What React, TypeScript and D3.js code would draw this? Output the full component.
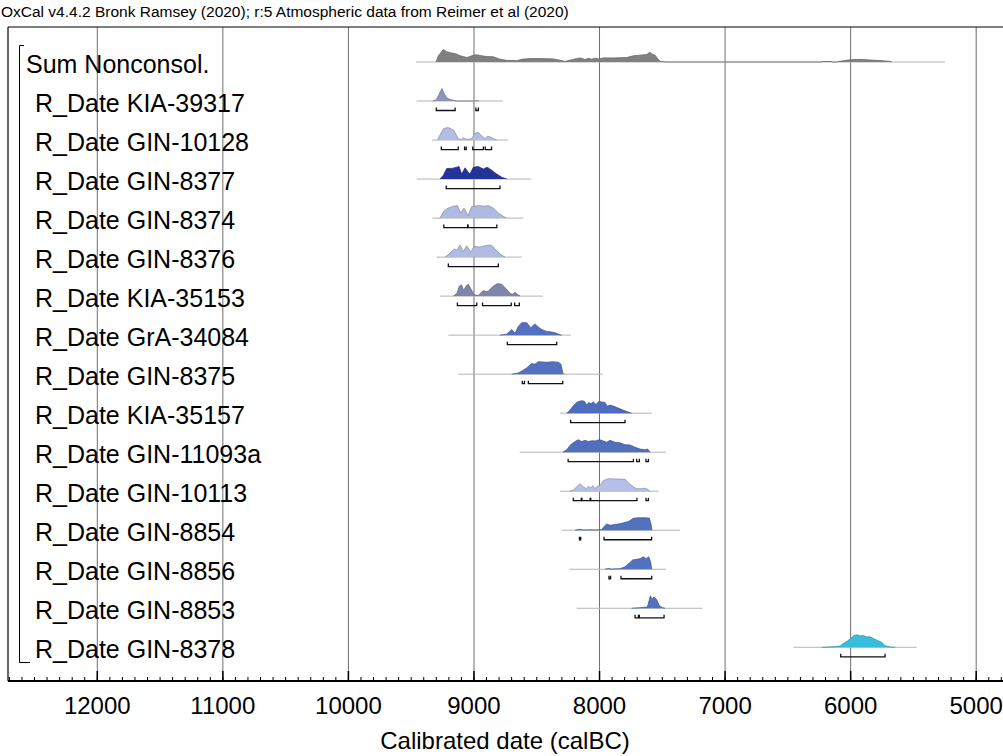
import React from "react";
import * as d3 from "d3";

// ---- data ----
const titleText = "OxCal v4.4.2 Bronk Ramsey (2020); r:5 Atmospheric data from Reimer et al (2020)";
const axisLabel = "Calibrated date (calBC)";
const majorTicks = [12000, 11000, 10000, 9000, 8000, 7000, 6000, 5000];

const labels = [
  "Sum Nonconsol.", "R_Date KIA-39317", "R_Date GIN-10128", "R_Date GIN-8377",
  "R_Date GIN-8374", "R_Date GIN-8376", "R_Date KIA-35153", "R_Date GrA-34084",
  "R_Date GIN-8375", "R_Date KIA-35157", "R_Date GIN-11093a", "R_Date GIN-10113",
  "R_Date GIN-8854", "R_Date GIN-8856", "R_Date GIN-8853", "R_Date GIN-8378",
];

const fills = [
  "#808080", "#8d95ba", "#b3bde6", "#23339a", "#afbae3", "#b0bbe3", "#7e86ab",
  "#5470c0", "#5470c0", "#4f6bbd", "#5070be", "#b5c0e8", "#5272c0", "#5272c0",
  "#5272c0", "#36bedc",
];

const rangeExtents: [number, number][] = [
  [9462, 5248], [9458, 8771], [9334, 8729], [9456, 8546], [9332, 8607], [9297, 8620],
  [9270, 8453], [9204, 8229], [9125, 7974], [8315, 7584], [8636, 7470], [8315, 7531],
  [8301, 7359], [8240, 7470], [8182, 7178], [6456, 5474],
];

const sumDensity = [
  [9302, 0], [9284, 0.5], [9244, 1.0], [9217, 0.83], [9178, 0.72], [9138, 0.64], [9111, 0.5],
  [9085, 0.44], [9058, 0.36], [9032, 0.44], [9005, 0.55], [8978, 0.58], [8939, 0.5], [8899, 0.44],
  [8846, 0.42], [8793, 0.22], [8740, 0.14], [8660, 0.11], [8620, 0.22], [8554, 0.28], [8474, 0.28],
  [8368, 0.25], [8315, 0.15], [8275, 0.05], [8235, 0.15], [8195, 0.25], [8155, 0.33], [8116, 0.2],
  [8089, 0.3], [8062, 0.22], [8036, 0.3], [8009, 0.25], [7969, 0.33], [7890, 0.33], [7784, 0.36],
  [7730, 0.5], [7677, 0.55], [7624, 0.6], [7598, 0.8], [7585, 0.65], [7558, 0.55], [7539, 0.3],
  [7518, 0.05], [7492, 0.02], [7470, 0], [6235, 0], [6230, 0.04], [6151, 0.04], [6145, 0],
  [6105, 0], [6098, 0.04], [6058, 0.1], [6005, 0.18], [5952, 0.2], [5899, 0.2], [5845, 0.16],
  [5766, 0.12], [5686, 0.05], [5673, 0],
];
const kia39317Density = [
  [9330, 0], [9300, 0.1], [9280, 0.5], [9255, 1.0], [9235, 0.55], [9215, 0.25], [9190, 0.12],
  [9160, 0.05], [9140, 0], [8990, 0], [8975, 0.03], [8960, 0],
];
const gin10128Density = [
  [9290, 0], [9276, 0.3], [9244, 0.9], [9210, 1.0], [9191, 0.95], [9159, 0.75], [9125, 0.1],
  [9100, 0.05], [9085, 0.18], [9058, 0.05], [9020, 0.1], [8992, 0.55], [8965, 0.6], [8938, 0.35],
  [8912, 0.1], [8894, 0.3], [8870, 0.25], [8840, 0.08], [8819, 0],
];
const gin8377Density = [
  [9270, 0], [9244, 0.3], [9217, 0.85], [9177, 0.85], [9137, 0.95], [9119, 1.0], [9098, 0.4],
  [9071, 0.9], [9050, 0.6], [9032, 0.4], [9005, 0.95], [8965, 1.0], [8926, 0.8], [8894, 0.95],
  [8859, 0.7], [8819, 0.4], [8779, 0.15], [8739, 0],
];
const gin8374Density = [
  [9270, 0], [9244, 0.5], [9217, 0.75], [9164, 0.95], [9132, 1.0], [9106, 0.4], [9079, 0.8],
  [9048, 0.2], [9018, 0.9], [8965, 1.0], [8912, 0.95], [8886, 1.0], [8846, 0.8], [8806, 0.4],
  [8753, 0.05], [8740, 0],
];
const gin8376Density = [
  [9231, 0], [9204, 0.2], [9177, 0.45], [9156, 0.65], [9137, 0.55], [9111, 0.95], [9085, 0.45],
  [9058, 0.9], [9026, 0.4], [8999, 0.85], [8952, 0.8], [8894, 0.95], [8859, 0.95], [8819, 0.5],
  [8779, 0.15], [8753, 0],
];
const kia35153Density = [
  [9164, 0], [9137, 0.2], [9116, 0.8], [9100, 0.9], [9082, 0.45], [9063, 0.8], [9045, 0.95],
  [9026, 0.6], [8999, 0.1], [8965, 0.05], [8926, 0.45], [8904, 0.35], [8886, 0.4], [8846, 0.8],
  [8811, 1.0], [8780, 0.95], [8745, 0.6], [8713, 0.2], [8692, 0.15], [8673, 0.3], [8655, 0.15],
  [8633, 0],
];
const gra34084Density = [
  [8793, 0], [8739, 0.08], [8699, 0.45], [8673, 0.15], [8647, 0.7], [8620, 1.0], [8580, 1.0],
  [8548, 0.6], [8514, 0.9], [8487, 0.65], [8460, 0.45], [8421, 0.3], [8381, 0.25], [8354, 0.2],
  [8320, 0.05], [8301, 0],
];
const gin8375Density = [
  [8699, 0], [8647, 0.1], [8612, 0.3], [8580, 0.5], [8541, 0.85], [8514, 0.8], [8487, 1.0],
  [8421, 0.95], [8368, 1.0], [8328, 0.95], [8307, 0.8], [8293, 0.1], [8283, 0],
];
const kia35157Density = [
  [8261, 0], [8235, 0.25], [8208, 0.6], [8177, 0.9], [8142, 1.0], [8121, 0.95], [8102, 0.65],
  [8086, 0.85], [8068, 0.75], [8049, 0.9], [8028, 0.7], [8004, 0.95], [7983, 0.9], [7956, 0.85],
  [7938, 0.55], [7916, 0.65], [7885, 0.55], [7837, 0.35], [7789, 0.15], [7744, 0],
];
const gin11093aDensity = [
  [8293, 0], [8261, 0.2], [8230, 0.6], [8195, 0.85], [8169, 1.0], [8142, 0.85], [8115, 0.95],
  [8089, 0.85], [8062, 0.92], [8036, 0.9], [8001, 1.0], [7969, 0.9], [7943, 0.8], [7916, 0.95],
  [7877, 0.8], [7837, 0.75], [7797, 0.6], [7757, 0.58], [7717, 0.4], [7677, 0.25], [7638, 0.2],
  [7616, 0.25], [7598, 0],
];
const gin10113Density = [
  [8240, 0], [8208, 0.1], [8182, 0.35], [8155, 0.6], [8134, 0.4], [8107, 0.2], [8089, 0.4],
  [8070, 0.25], [8054, 0.45], [8036, 0.2], [8017, 0.4], [7996, 0.45], [7969, 0.85], [7930, 1.0],
  [7863, 0.98], [7797, 0.95], [7762, 0.6], [7731, 0.35], [7704, 0.2], [7664, 0.2], [7638, 0.25],
  [7611, 0.12], [7598, 0],
];
const gin8854Density = [
  [8195, 0], [8161, 0.08], [8129, 0.02], [8076, 0.04], [8036, 0.02], [7983, 0.05], [7964, 0.3],
  [7943, 0.5], [7916, 0.4], [7877, 0.45], [7823, 0.55], [7770, 0.7], [7731, 0.95], [7691, 1.0],
  [7638, 1.0], [7603, 0.97], [7590, 0.5], [7582, 0],
];
const gin8856Density = [
  [7956, 0], [7930, 0.06], [7903, 0.02], [7837, 0.05], [7797, 0.2], [7762, 0.5], [7736, 0.75],
  [7704, 0.8], [7677, 0.85], [7651, 1.0], [7630, 0.85], [7608, 1.0], [7593, 0.6], [7585, 0],
];
const gin8853Density = [
  [7744, 0], [7677, 0.05], [7619, 0.1], [7603, 0.7], [7595, 1.0], [7582, 0.75], [7566, 0.9],
  [7545, 0.7], [7523, 0.2], [7497, 0.05], [7478, 0],
];
const gin8378Density = [
  [6230, 0], [6138, 0.04], [6084, 0.1], [6058, 0.3], [6026, 0.5], [6000, 0.7], [5973, 0.95],
  [5946, 1.0], [5925, 0.9], [5899, 0.95], [5872, 0.82], [5846, 0.85], [5819, 0.7], [5787, 0.55],
  [5753, 0.4], [5726, 0.12], [5686, 0.03], [5646, 0],
];

const densities = [
  sumDensity, kia39317Density, gin10128Density, gin8377Density, gin8374Density, gin8376Density,
  kia35153Density, gra34084Density, gin8375Density, kia35157Density, gin11093aDensity,
  gin10113Density, gin8854Density, gin8856Density, gin8853Density, gin8378Density,
];

const hpdRanges: [number, number][][] = [
  [],
  [[9300, 9150], [8985, 8965]],
  [[9260, 9125], [9075, 9062], [9010, 8925], [8910, 8860]],
  [[9221, 8793]],
  [[9240, 9050], [9048, 8818]],
  [[9204, 8806]],
  [[9132, 8978], [8932, 8703], [8676, 8639]],
  [[8734, 8341]],
  [[8615, 8598], [8567, 8293]],
  [[8230, 7797]],
  [[8250, 7730], [7704, 7683], [7630, 7611]],
  [[8209, 8145], [8140, 8075], [8070, 7702], [7630, 7611]],
  [[8160, 8150], [7964, 7585]],
  [[7925, 7912], [7829, 7584]],
  [[7717, 7690], [7683, 7486]],
  [[6079, 5726]],
];

// ---- layout ----
const W = 1003;
const H = 756;
const frameLeft = 8;
const frameTop = 27;
const axisY = 681;
const row0 = 62;
const rowStep = 39.02;
const peakH = 12.5;
const FONT = "'Liberation Sans', Arial, Helvetica, sans-serif";

export default function App() {
  const x = d3.scaleLinear().domain([12000, 5000]).range([97.3, 976.2]);
  const minorTicks = d3.range(12700, 4700, -100).filter((d) => x(d) > frameLeft + 1 && x(d) < W);

  return (
    <svg width={W} height={H} style={{ position: "absolute", left: 0, top: 0, background: "#fff" }}
      fontFamily={FONT}>
      <text x={1} y={17} fontSize={15.5} fill="#000">{titleText}</text>

      {/* gridlines */}
      {majorTicks.map((t) => (
        <line key={"g" + t} x1={x(t)} x2={x(t)} y1={frameTop} y2={axisY} stroke="#6e6e6e" strokeWidth={1} />
      ))}

      {/* frame */}
      <line x1={frameLeft} x2={W + 10} y1={frameTop} y2={frameTop} stroke="#000" strokeWidth={1} />
      <line x1={frameLeft} x2={frameLeft} y1={frameTop} y2={axisY} stroke="#000" strokeWidth={1.2} />

      {/* distributions */}
      {densities.map((pts, i) => {
        const base = row0 + rowStep * i;
        const area = d3.area<number[]>()
          .x((d) => x(d[0]))
          .y0(base)
          .y1((d) => base - d[1] * peakH);
        const line = d3.line<number[]>()
          .x((d) => x(d[0]))
          .y((d) => base - d[1] * peakH);
        const [r0, r1] = rangeExtents[i];
        const col = d3.color(fills[i])!;
        return (
          <g key={"d" + i}>
            <line x1={x(r0)} x2={x(r1)} y1={base} y2={base} stroke="#b4b4b4" strokeWidth={1} />
            <path d={area(pts as any) || ""} fill={fills[i]} />
            <path d={line(pts as any) || ""} fill="none" stroke={col.darker(0.9).formatHex()} strokeWidth={0.7} />
            {hpdRanges[i].map(([a, b], j) => {
              const by = base + 9.5;
              return (
                <path key={j} d={`M${x(a)},${by - 3}V${by}H${x(b)}V${by - 3}`} fill="none" stroke="#111" strokeWidth={1.3} />
              );
            })}
          </g>
        );
      })}

      {/* labels */}
      {labels.map((l, i) => (
        <text key={"l" + i} x={i === 0 ? 26 : 35} y={row0 + rowStep * i + 11} fontSize={25} fill="#000">{l}</text>
      ))}

      {/* group bracket */}
      <path d={`M24,45.5H19.5V662.5H30`} fill="none" stroke="#000" strokeWidth={1} />

      {/* axis */}
      <line x1={frameLeft} x2={W + 10} y1={axisY} y2={axisY} stroke="#000" strokeWidth={2} />
      {minorTicks.map((t) => (
        <line key={"m" + t} x1={x(t)} x2={x(t)} y1={axisY} y2={axisY - 4} stroke="#000" strokeWidth={1} />
      ))}
      {majorTicks.map((t) => (
        <g key={"t" + t}>
          <line x1={x(t)} x2={x(t)} y1={axisY} y2={axisY - 10} stroke="#000" strokeWidth={1.5} />
          <text x={x(t)} y={714} fontSize={24} textAnchor="middle" fill="#000">{t}</text>
        </g>
      ))}
      <text x={505} y={749} fontSize={24} textAnchor="middle" fill="#000">{axisLabel}</text>
    </svg>
  );
}
